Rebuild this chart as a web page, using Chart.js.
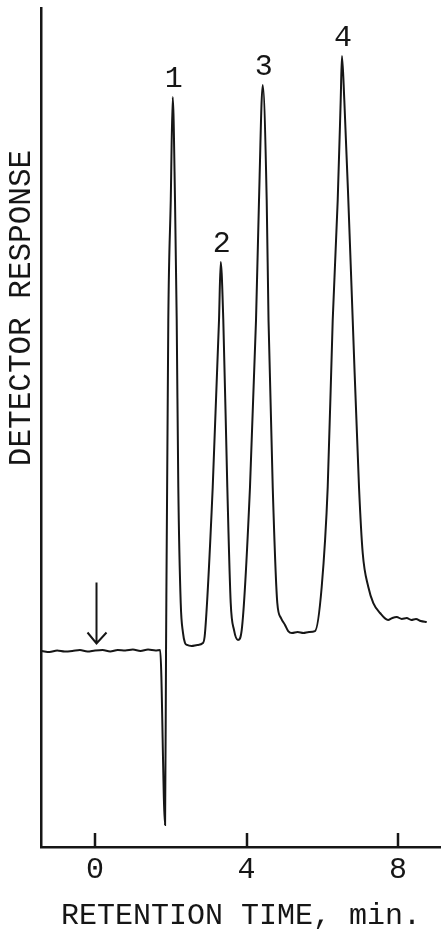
<!DOCTYPE html>
<html>
<head>
<meta charset="utf-8">
<script src="https://cdn.jsdelivr.net/npm/chart.js@4.4.1/dist/chart.umd.min.js"></script>
<style>
  html, body { margin: 0; padding: 0; background: #fff; }
  #wrap { width: 441px; height: 930px; }
</style>
</head>
<body>
<div id="wrap"><canvas id="chrom" width="441" height="930"></canvas></div>
<script>
// retention time (min) and detector response (arbitrary units, 0-100 full scale)
const times = [
  -1.40, -1.20, -1.00, -0.80, -0.60, -0.40, -0.20, 0.00, 0.20, 0.40, 0.60, 0.80, 1.00, 1.20, 1.40, 1.60, 1.72,
  1.85, 1.875,
  1.935, 2.00, 2.052, 2.112,
  2.157, 2.199, 2.263, 2.323, 2.376, 2.429, 2.55, 2.70, 2.851,
  2.904, 3.108, 3.274, 3.319,
  3.387, 3.493, 3.583, 3.670, 3.775,
  3.873, 4.092, 4.251, 4.330, 4.428, 4.533,
  4.581, 4.692, 4.813, 4.911, 5.017, 5.10, 5.20, 5.35, 5.50, 5.65, 5.809,
  5.985, 6.144, 6.276, 6.408, 6.487, 6.52,
  6.582, 6.688, 6.804, 6.970, 7.068, 7.216, 7.348, 7.525, 7.736, 7.85, 7.966, 8.10, 8.23, 8.35, 8.475, 8.60, 8.758
];
const response = [
  23.36, 23.24, 23.42, 23.30, 23.36, 23.48, 23.30, 23.42, 23.48, 23.30, 23.48, 23.42, 23.53, 23.36, 23.53, 23.42, 23.48,
  2.62, 23.12,
  62.81, 77.12, 89.39, 77.12,
  62.81, 42.91, 29.08, 25.51, 24.31, 24.08, 23.96, 24.08, 24.31,
  25.51, 42.91, 62.81, 69.73,
  62.81, 42.91, 29.08, 25.86, 24.67,
  25.86, 42.91, 62.81, 77.12, 90.82, 77.12,
  62.81, 42.91, 29.08, 27.29, 26.46, 25.74, 25.51, 25.63, 25.51, 25.63, 25.74,
  30.99, 42.91, 62.81, 77.12, 89.03, 94.28,
  89.03, 77.12, 62.81, 42.91, 35.04, 30.99, 29.08, 27.89, 27.06, 27.30, 27.41, 27.18, 27.29, 27.06, 27.18, 26.94, 26.82
];

const tickValues = [0, 4, 8];
const peakLabels = ['1', '2', '3', '4'];
const peakTimes = [2.052, 3.319, 4.428, 6.52];
const injectionTime = 0;

const INK = '#161616';
const FONT = '"Liberation Mono", "DejaVu Sans Mono", monospace';

// tick marks pointing into the plot, injection arrow, peak numbers, y title
const annotate = {
  id: 'annotate',
  afterDraw(chart) {
    const { ctx, chartArea, scales: { x, y } } = chart;
    ctx.save();
    ctx.strokeStyle = INK;
    ctx.fillStyle = INK;

    ctx.lineWidth = 2.5;
    tickValues.forEach(v => {
      const px = Math.round(x.getPixelForValue(v));
      ctx.beginPath();
      ctx.moveTo(px, chartArea.bottom);
      ctx.lineTo(px, chartArea.bottom - 14);
      ctx.stroke();
    });

    // injection marker
    const ax = x.getPixelForValue(injectionTime) + 1.5;
    const tipY = y.getPixelForValue(response[times.indexOf(injectionTime)]) - 7;
    ctx.lineWidth = 2;
    ctx.beginPath();
    ctx.moveTo(ax, tipY - 61);
    ctx.lineTo(ax, tipY);
    ctx.moveTo(ax - 9, tipY - 11);
    ctx.lineTo(ax, tipY);
    ctx.lineTo(ax + 10, tipY - 11);
    ctx.stroke();

    ctx.font = '30px ' + FONT;
    ctx.textAlign = 'center';
    ctx.textBaseline = 'alphabetic';
    peakLabels.forEach((lab, i) => {
      const t = peakTimes[i];
      const r = response[times.indexOf(t)];
      ctx.fillText(lab, x.getPixelForValue(t) + 1, y.getPixelForValue(r) - 10);
    });

    ctx.font = '31px ' + FONT;
    ctx.translate(chartArea.left - 19, 308);
    ctx.rotate(-Math.PI / 2);
    ctx.textBaseline = 'middle';
    ctx.fillText('DETECTOR RESPONSE', 0, 0);
    ctx.restore();
  }
};

new Chart(document.getElementById('chrom'), {
  type: 'line',
  data: {
    datasets: [{
      data: times.map((t, i) => ({ x: t, y: response[i] })),
      borderColor: INK,
      borderWidth: 2,
      pointRadius: 0,
      cubicInterpolationMode: 'monotone',
      fill: false
    }]
  },
  options: {
    responsive: false,
    animation: false,
    layout: { padding: { left: 41, top: 8, right: 0, bottom: 0 } },
    plugins: { legend: { display: false }, tooltip: { enabled: false } },
    scales: {
      x: {
        type: 'linear',
        min: -1.426,
        max: 9.135,
        afterBuildTicks: scale => { scale.ticks = tickValues.map(v => ({ value: v })); },
        grid: { display: false, drawTicks: false },
        border: { display: true, color: INK, width: 2.5 },
        ticks: { color: INK, padding: 8, font: { family: FONT, size: 30, lineHeight: 1 } },
        title: {
          display: true,
          text: 'RETENTION TIME, min.',
          color: INK,
          padding: { top: 10, bottom: 0 },
          font: { family: FONT, size: 30, lineHeight: 0.9 }
        }
      },
      y: {
        min: 0,
        max: 100,
        grid: { display: false, drawTicks: false },
        border: { display: true, color: INK, width: 2.5 },
        ticks: { display: false }
      }
    }
  },
  plugins: [annotate]
});
</script>
</body>
</html>
